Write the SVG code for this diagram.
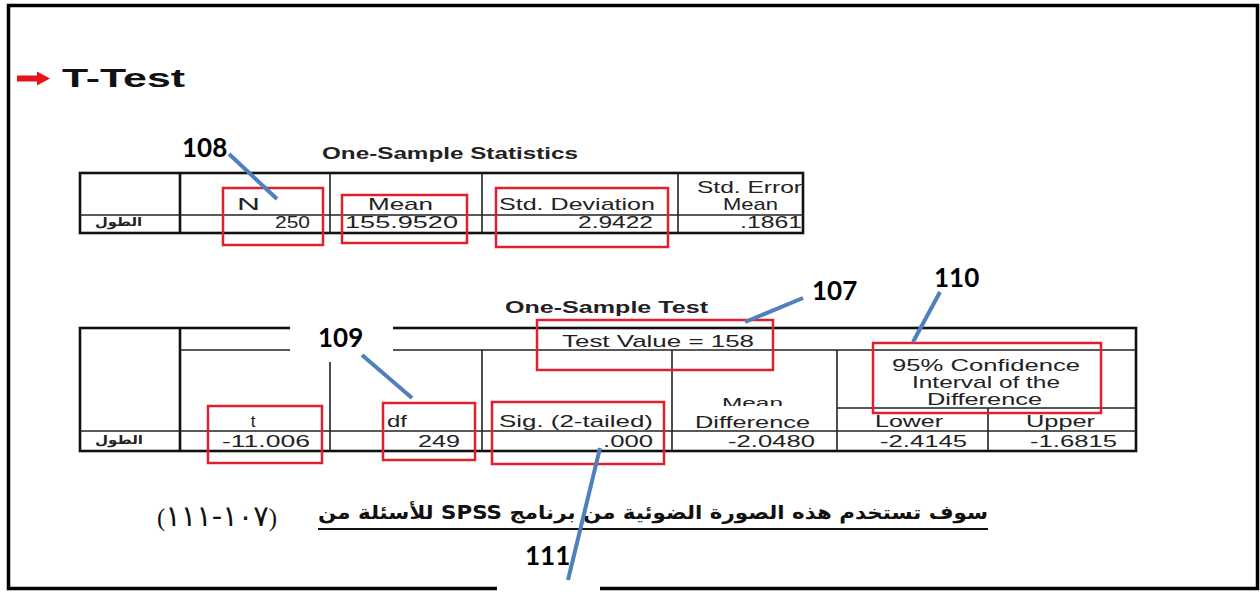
<svg xmlns="http://www.w3.org/2000/svg" width="1260" height="592" viewBox="0 0 1260 592">
<style>
.tx{font-family:"Liberation Sans",Arial,sans-serif;font-size:17px;fill:#222}
.ttl{font-family:"Liberation Sans",Arial,sans-serif;font-size:17px;font-weight:bold;fill:#222}
.ar{font-family:"DejaVu Sans",sans-serif;font-size:12px;font-weight:bold;fill:#222}
.num{font-family:Lato,"Open Sans",sans-serif;font-size:26px;font-weight:bold;fill:#000}
.tb{fill:none;stroke:#222;stroke-width:1.6}
.tbo{fill:none;stroke:#111;stroke-width:2.6}
.rb{fill:none;stroke:#e0202e;stroke-width:2.5}
.cn{stroke:#4f7fbd;stroke-width:4;stroke-linecap:butt}
</style>
<defs>
<clipPath id="meanclip"><rect x="700" y="398" width="110" height="8"/></clipPath>
</defs>
<rect x="0" y="0" width="1260" height="592" fill="#fff"/>
<rect x="8.5" y="5.5" width="1249" height="583" fill="none" stroke="#000" stroke-width="3.5"/>

<g id="title">
<polygon points="17,75.5 37,75.5 37,71.5 50,78.5 37,85.5 37,81.5 17,81.5" fill="#e8141c"/>
<text x="62" y="87" font-family="'Liberation Sans',Arial,sans-serif" font-size="25" font-weight="bold" fill="#111" textLength="123" lengthAdjust="spacingAndGlyphs">T-Test</text>
</g>

<g id="table1">
<text class="ttl" x="322" y="159" textLength="256" lengthAdjust="spacingAndGlyphs">One-Sample Statistics</text>
<rect class="tbo" x="80" y="173" width="723" height="60"/>
<line class="tbo" x1="180" y1="173" x2="180" y2="233"/>
<line class="tb" x1="80" y1="215" x2="803" y2="215" stroke-width="2"/>
<line class="tb" x1="330" y1="173" x2="330" y2="233"/>
<line class="tb" x1="482" y1="173" x2="482" y2="233"/>
<line class="tb" x1="678" y1="173" x2="678" y2="233"/>
<text class="tx" x="237" y="210" textLength="23" lengthAdjust="spacingAndGlyphs">N</text>
<text class="tx" x="368" y="210" textLength="65" lengthAdjust="spacingAndGlyphs">Mean</text>
<text class="tx" x="499" y="210" textLength="156" lengthAdjust="spacingAndGlyphs">Std. Deviation</text>
<text class="tx" x="697" y="193" textLength="105" lengthAdjust="spacingAndGlyphs">Std. Error</text>
<text class="tx" x="723" y="210" textLength="55" lengthAdjust="spacingAndGlyphs">Mean</text>
<text class="ar" x="95" y="226" textLength="47" lengthAdjust="spacingAndGlyphs">الطول</text>
<text class="tx" x="275" y="228" textLength="35" lengthAdjust="spacingAndGlyphs">250</text>
<text class="tx" x="345" y="228" textLength="113" lengthAdjust="spacingAndGlyphs">155.9520</text>
<text class="tx" x="578" y="228" textLength="75" lengthAdjust="spacingAndGlyphs">2.9422</text>
<text class="tx" x="740" y="228" textLength="62" lengthAdjust="spacingAndGlyphs">.1861</text>
</g>

<g id="table2">
<text class="ttl" x="505" y="313" textLength="203" lengthAdjust="spacingAndGlyphs">One-Sample Test</text>
<rect class="tbo" x="80" y="328" width="1056" height="123"/>
<line class="tbo" x1="180" y1="328" x2="180" y2="451"/>
<line class="tb" x1="180" y1="350" x2="1136" y2="350"/>
<line class="tb" x1="80" y1="431" x2="1136" y2="431" stroke-width="2"/>
<line class="tb" x1="330" y1="350" x2="330" y2="451"/>
<line class="tb" x1="482" y1="350" x2="482" y2="451"/>
<line class="tb" x1="672" y1="350" x2="672" y2="451"/>
<line class="tb" x1="837" y1="350" x2="837" y2="451"/>
<line class="tb" x1="837" y1="408" x2="1136" y2="408"/>
<line class="tb" x1="988" y1="408" x2="988" y2="451"/>
<text class="tx" x="562" y="347" textLength="192" lengthAdjust="spacingAndGlyphs">Test Value = 158</text>
<text class="tx" x="892" y="371" textLength="188" lengthAdjust="spacingAndGlyphs">95% Confidence</text>
<text class="tx" x="912" y="388" textLength="148" lengthAdjust="spacingAndGlyphs">Interval of the</text>
<text class="tx" x="927" y="405" textLength="115" lengthAdjust="spacingAndGlyphs">Difference</text>
<text class="tx" x="253" y="427" text-anchor="middle">t</text>
<text class="tx" x="387" y="427" textLength="20" lengthAdjust="spacingAndGlyphs">df</text>
<text class="tx" x="499" y="427" textLength="154" lengthAdjust="spacingAndGlyphs">Sig. (2-tailed)</text>
<text x="722" y="408" font-family="'Liberation Sans',Arial,sans-serif" font-size="15" fill="#222" textLength="61" lengthAdjust="spacingAndGlyphs" clip-path="url(#meanclip)">Mean</text>
<text class="tx" x="695" y="428" textLength="115" lengthAdjust="spacingAndGlyphs">Difference</text>
<text class="tx" x="875" y="427" textLength="68" lengthAdjust="spacingAndGlyphs">Lower</text>
<text class="tx" x="1026" y="427" textLength="69" lengthAdjust="spacingAndGlyphs">Upper</text>
<text class="ar" x="95" y="444" textLength="48" lengthAdjust="spacingAndGlyphs">الطول</text>
<text class="tx" x="222" y="447" textLength="88" lengthAdjust="spacingAndGlyphs">-11.006</text>
<text class="tx" x="418" y="447" textLength="42" lengthAdjust="spacingAndGlyphs">249</text>
<text class="tx" x="603" y="447" textLength="50" lengthAdjust="spacingAndGlyphs">.000</text>
<text class="tx" x="728" y="447" textLength="87" lengthAdjust="spacingAndGlyphs">-2.0480</text>
<text class="tx" x="880" y="447" textLength="87" lengthAdjust="spacingAndGlyphs">-2.4145</text>
<text class="tx" x="1030" y="447" textLength="87" lengthAdjust="spacingAndGlyphs">-1.6815</text>
</g>

<g id="highlights">
<rect class="rb" x="223" y="188" width="100" height="57"/>
<rect class="rb" x="342" y="195" width="125" height="48"/>
<rect class="rb" x="496" y="188" width="172" height="59"/>
<rect class="rb" x="537" y="320" width="236" height="50"/>
<rect class="rb" x="873" y="343" width="228" height="70"/>
<rect class="rb" x="208" y="406" width="114" height="57"/>
<rect class="rb" x="383" y="403" width="92" height="57"/>
<rect class="rb" x="492" y="402" width="172" height="62"/>
</g>

<g id="caption">
<text x="653" y="519" font-family="'DejaVu Sans',sans-serif" font-size="19" font-weight="bold" fill="#111" direction="rtl" text-anchor="middle" textLength="670" lengthAdjust="spacingAndGlyphs">سوف تستخدم هذه الصورة الضوئية من برنامج SPSS للأسئلة من</text>
<line x1="318" y1="529" x2="988" y2="529" stroke="#111" stroke-width="1.8"/>
<text x="157" y="526" font-family="'Liberation Serif','DejaVu Sans',serif" font-size="25" fill="#111" direction="ltr" unicode-bidi="bidi-override" textLength="120" lengthAdjust="spacingAndGlyphs">(<tspan font-family="'DejaVu Sans',sans-serif" font-size="29">١١١-١٠٧</tspan>)</text>
</g>

<g id="connectors">
<line class="cn" x1="229" y1="154" x2="277" y2="199"/>
<line class="cn" x1="803" y1="298" x2="745" y2="322"/>
<line class="cn" x1="940" y1="292" x2="913" y2="342"/>
<line class="cn" x1="362" y1="355" x2="412" y2="398"/>
<line class="cn" x1="600" y1="448" x2="568" y2="580"/>
</g>

<g id="label-108"><text class="num" x="182" y="157">108</text></g>
<g id="label-107"><text class="num" x="812" y="300">107</text></g>
<g id="label-110"><text class="num" x="934" y="287">110</text></g>
<g id="label-109">
<rect x="290" y="325" width="103" height="28" fill="#fff"/>
<line x1="330" y1="350" x2="330" y2="362" stroke="#fff" stroke-width="3"/>
<text class="num" x="318" y="347">109</text>
</g>
<g id="label-111">
<rect x="497" y="585" width="103" height="7" fill="#fff"/>
<text class="num" x="525" y="565">111</text>
</g>
</svg>
